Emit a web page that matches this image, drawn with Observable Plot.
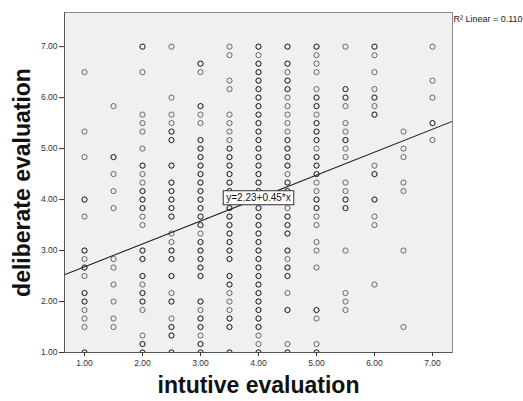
<!DOCTYPE html>
<html>
<head>
<meta charset="utf-8">
<script src="https://cdn.jsdelivr.net/npm/d3@7"></script>
<script src="https://cdn.jsdelivr.net/npm/@observablehq/plot@0.6"></script>
<style>
  html, body { margin: 0; padding: 0; background: #ffffff; overflow: hidden; }
  #chart { width: 523px; height: 401px; overflow: hidden; }
</style>
</head>
<body>
<div id="chart"></div>
<script>
// ---- Data ----
// x: intuitive evaluation (column values)
const intuitiveValues = [1, 1.5, 2, 2.5, 3, 3.5, 4, 4.5, 5, 5.5, 6, 6.5, 7];
// deliberate evaluation = sum of six 1-7 items / 6 ; repeated sums are overlapping responses
const sumsAt1_0 = [39, 32, 29, 24, 24, 22, 18, 18, 17, 16, 16, 15, 13, 13, 12, 12, 11, 10, 9, 6, 6];
const sumsAt1_5 = [35, 29, 29, 27, 25, 23, 17, 16, 14, 12, 10, 9];
const sumsAt2_0 = [42, 42, 39, 34, 33, 32, 30, 28, 28, 27, 26, 25, 25, 24, 24, 23, 23, 22, 21, 18, 18, 17, 17, 15, 15, 14, 13, 13, 12, 12, 11, 8, 7, 7, 6, 6];
const sumsAt2_5 = [42, 36, 34, 33, 32, 32, 31, 31, 28, 28, 26, 26, 25, 25, 24, 24, 23, 23, 22, 22, 20, 19, 18, 18, 17, 17, 15, 15, 13, 12, 12, 10, 9, 9, 8, 8, 6, 6];
const sumsAt3_0 = [40, 40, 39, 35, 35, 34, 33, 31, 31, 30, 30, 29, 29, 28, 28, 27, 27, 26, 26, 25, 25, 24, 24, 23, 23, 22, 22, 21, 21, 20, 19, 19, 18, 18, 17, 17, 16, 16, 15, 15, 12, 12, 11, 10, 10, 9, 9, 8, 7, 7, 6, 6];
const sumsAt3_5 = [42, 41, 38, 37, 34, 33, 32, 31, 30, 30, 29, 29, 28, 28, 27, 27, 26, 26, 25, 25, 24, 24, 23, 23, 22, 22, 21, 21, 20, 20, 19, 19, 18, 18, 17, 17, 15, 15, 14, 14, 13, 12, 11, 10, 10, 9, 9, 6, 6];
const sumsAt4_0 = [42, 42, 41, 40, 40, 39, 39, 38, 38, 37, 37, 36, 36, 35, 35, 34, 34, 33, 33, 32, 32, 31, 31, 30, 30, 29, 29, 28, 28, 27, 27, 26, 26, 25, 25, 24, 24, 23, 23, 22, 22, 21, 21, 20, 20, 19, 19, 18, 18, 17, 17, 16, 16, 15, 15, 14, 14, 13, 13, 12, 12, 11, 11, 10, 10, 9, 9, 8, 7, 6, 6];
const sumsAt4_5 = [42, 42, 40, 40, 39, 38, 38, 37, 37, 36, 35, 34, 33, 32, 31, 31, 30, 30, 29, 29, 28, 28, 27, 26, 26, 25, 25, 24, 23, 22, 22, 21, 21, 20, 20, 18, 18, 17, 16, 16, 15, 15, 13, 11, 11, 7, 6, 6];
const sumsAt5_0 = [42, 42, 41, 40, 39, 37, 36, 36, 35, 35, 34, 33, 33, 32, 32, 31, 31, 30, 29, 29, 28, 28, 27, 27, 26, 25, 24, 24, 23, 23, 22, 21, 19, 18, 16, 11, 11, 10, 7, 6, 6];
const sumsAt5_5 = [42, 37, 37, 36, 36, 35, 33, 32, 31, 31, 30, 29, 26, 25, 24, 24, 23, 23, 18, 13, 12, 11];
const sumsAt6_0 = [42, 42, 41, 39, 37, 36, 36, 35, 34, 34, 28, 27, 27, 24, 24, 22, 21, 14];
const sumsAt6_5 = [32, 30, 29, 26, 25, 18, 9];
const sumsAt7_0 = [42, 38, 36, 33, 33, 31];
const itemsPerScale = 6;

// Axis ticks and labels
const xTicks = [1, 2, 3, 4, 5, 6, 7];
const yTicks = [1, 2, 3, 4, 5, 6, 7];
const xDomain = [0.655, 7.345];
const yDomain = [1, 7.67];
const xTitle = "intutive evaluation";
const yTitle = "deliberate evaluation";

// Fit line (as printed in the reference)
const fitIntercept = 2.23;
const fitSlope = 0.45;
const fitLabel = "y=2.23+0.45*x";
const fitLabelAtX = 4.0;
const r2Label = "R\u00B2 Linear = 0.110";

// ---- Build table ----
const columnSums = [sumsAt1_0, sumsAt1_5, sumsAt2_0, sumsAt2_5, sumsAt3_0, sumsAt3_5, sumsAt4_0,
                    sumsAt4_5, sumsAt5_0, sumsAt5_5, sumsAt6_0, sumsAt6_5, sumsAt7_0];
const points = [];
intuitiveValues.forEach((xv, i) => {
  columnSums[i].forEach(s => points.push({x: xv, y: s / itemsPerScale}));
});
const fitLine = xDomain.map(xv => ({x: xv, y: fitIntercept + fitSlope * xv}));
const fitLabelRow = [{x: fitLabelAtX, y: fitIntercept + fitSlope * fitLabelAtX, text: fitLabel}];

const fmt = d3.format(".2f");
const font = "'Liberation Sans', Arial, Helvetica, sans-serif";

const plot = Plot.plot({
  width: 523,
  height: 401,
  marginLeft: 64,
  marginRight: 71,
  marginTop: 12,
  marginBottom: 49,
  style: {fontFamily: font, background: "#ffffff", color: "#333333"},
  x: {domain: xDomain},
  y: {domain: yDomain},
  marks: [
    Plot.frame({fill: "#f0f0f0", stroke: "#8a8a8a"}),
    Plot.dot(points, {x: "x", y: "y", r: 2.6, stroke: "#000000", strokeOpacity: 0.55, strokeWidth: 1, fill: "none", clip: "frame"}),
    Plot.line(fitLine, {x: "x", y: "y", stroke: "#222222", strokeWidth: 1.1, clip: "frame"}),
    Plot.ruleX([xDomain[0]], {stroke: "#555555"}),
    Plot.ruleY([yDomain[0]], {stroke: "#555555"}),
    Plot.axisX({ticks: xTicks, tickFormat: fmt, tickSize: 4, tickPadding: 3, fontSize: 8.5, label: null, stroke: "#333333", fill: "#333333"}),
    Plot.axisY({ticks: yTicks, tickFormat: fmt, tickSize: 5, tickPadding: 2, fontSize: 8.5, label: null, stroke: "#333333", fill: "#333333"}),
    Plot.text(fitLabelRow, {x: "x", y: "y", text: "text", fontSize: 10, fill: "#111111", ariaDescription: "fit-label"}),
    Plot.text([r2Label], {frameAnchor: "top-right", text: d => d, textAnchor: "start", lineAnchor: "middle", dx: 1, dy: 7, fontSize: 9, fill: "#222222"}),
    Plot.text([xTitle], {frameAnchor: "bottom", text: d => d, textAnchor: "middle", lineAnchor: "middle", dy: 33, fontSize: 23, fontWeight: "bold", fill: "#111111"}),
    Plot.text([yTitle], {frameAnchor: "left", text: d => d, textAnchor: "middle", lineAnchor: "middle", dx: -42, rotate: -90, fontSize: 23, fontWeight: "bold", fill: "#111111"})
  ]
});

document.getElementById("chart").append(plot);

// white box with border behind the fit label
const labelText = plot.querySelector('g[aria-description="fit-label"] text');
if (labelText) {
  const bb = labelText.getBBox();
  const rect = document.createElementNS("http://www.w3.org/2000/svg", "rect");
  rect.setAttribute("x", bb.x - 3);
  rect.setAttribute("y", bb.y - 1.5);
  rect.setAttribute("width", bb.width + 6);
  rect.setAttribute("height", bb.height + 3);
  rect.setAttribute("fill", "#ffffff");
  rect.setAttribute("stroke", "#333333");
  rect.setAttribute("stroke-width", "1");
  const tr = labelText.getAttribute("transform");
  if (tr) rect.setAttribute("transform", tr);
  labelText.parentNode.insertBefore(rect, labelText);
}
</script>
</body>
</html>
